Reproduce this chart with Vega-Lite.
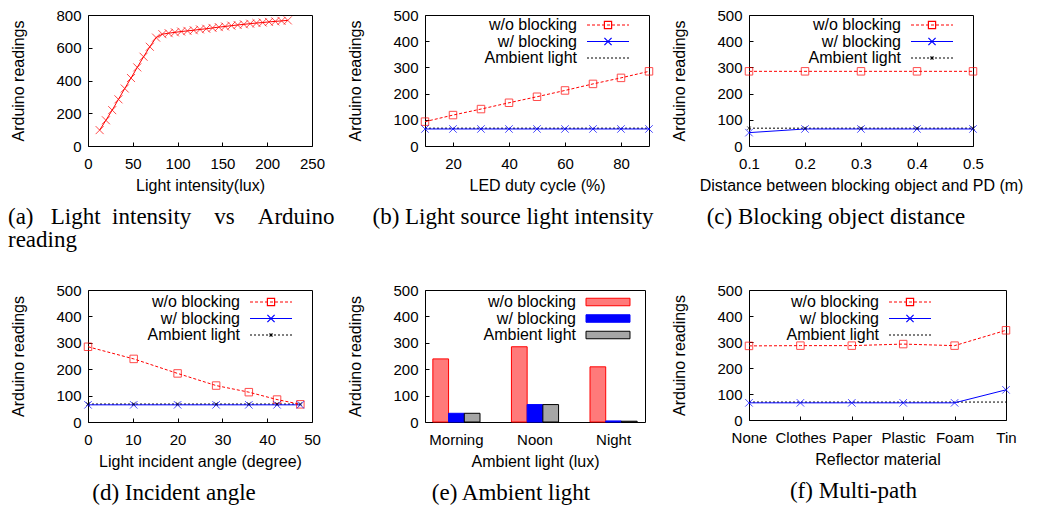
{
  "$schema": "https://vega.github.io/schema/vega-lite/v6.json",
  "padding": {"left": 7, "top": 7, "right": 0, "bottom": 0},
  "bounds": "flush",
  "align": "none",
  "columns": 5,
  "spacing": {"row": 144, "column": 40},
  "resolve": {
    "scale": {"color": "independent", "fill": "independent", "stroke": "independent"},
    "legend": {"color": "independent", "fill": "independent", "stroke": "independent"}
  },
  "datasets": {
    "a": [{"x":13,"y":97},{"x":20,"y":157},{"x":27,"y":219},{"x":34,"y":285},{"x":41,"y":351},{"x":48,"y":415},{"x":55,"y":480},{"x":62,"y":545},{"x":69,"y":606},{"x":76,"y":662},{"x":83,"y":683},{"x":90,"y":689},{"x":97,"y":694},{"x":104,"y":699},{"x":111,"y":703},{"x":118,"y":707},{"x":125,"y":712},{"x":132,"y":716},{"x":139,"y":721},{"x":146,"y":726},{"x":153,"y":730},{"x":160,"y":735},{"x":167,"y":739},{"x":174,"y":743},{"x":181,"y":747},{"x":188,"y":751},{"x":195,"y":754},{"x":202,"y":758},{"x":209,"y":761},{"x":216,"y":764},{"x":223,"y":767}],
    "b": [
      {"x":10,"s":"w/o blocking","y":93},{"x":20,"s":"w/o blocking","y":118},{"x":30,"s":"w/o blocking","y":141},{"x":40,"s":"w/o blocking","y":165},{"x":50,"s":"w/o blocking","y":188},{"x":60,"s":"w/o blocking","y":212},{"x":70,"s":"w/o blocking","y":237},{"x":80,"s":"w/o blocking","y":260},{"x":90,"s":"w/o blocking","y":285},
      {"x":10,"s":"w/ blocking","y":65},{"x":20,"s":"w/ blocking","y":65},{"x":30,"s":"w/ blocking","y":65},{"x":40,"s":"w/ blocking","y":65},{"x":50,"s":"w/ blocking","y":65},{"x":60,"s":"w/ blocking","y":65},{"x":70,"s":"w/ blocking","y":65},{"x":80,"s":"w/ blocking","y":65},{"x":90,"s":"w/ blocking","y":65},
      {"x":10,"s":"Ambient light","y":68},{"x":20,"s":"Ambient light","y":68},{"x":30,"s":"Ambient light","y":68},{"x":40,"s":"Ambient light","y":68},{"x":50,"s":"Ambient light","y":68},{"x":60,"s":"Ambient light","y":68},{"x":70,"s":"Ambient light","y":68},{"x":80,"s":"Ambient light","y":68},{"x":90,"s":"Ambient light","y":68}
    ],
    "c": [
      {"x":0.1,"s":"w/o blocking","y":285},{"x":0.2,"s":"w/o blocking","y":285},{"x":0.3,"s":"w/o blocking","y":285},{"x":0.4,"s":"w/o blocking","y":285},{"x":0.5,"s":"w/o blocking","y":285},
      {"x":0.1,"s":"w/ blocking","y":51},{"x":0.2,"s":"w/ blocking","y":65},{"x":0.3,"s":"w/ blocking","y":65},{"x":0.4,"s":"w/ blocking","y":65},{"x":0.5,"s":"w/ blocking","y":65},
      {"x":0.1,"s":"Ambient light","y":68},{"x":0.2,"s":"Ambient light","y":68},{"x":0.3,"s":"Ambient light","y":68},{"x":0.4,"s":"Ambient light","y":68},{"x":0.5,"s":"Ambient light","y":68}
    ],
    "d": [
      {"x":0,"s":"w/o blocking","y":285},{"x":10.2,"s":"w/o blocking","y":239},{"x":20,"s":"w/o blocking","y":184},{"x":28.6,"s":"w/o blocking","y":138},{"x":35.9,"s":"w/o blocking","y":113},{"x":42.2,"s":"w/o blocking","y":85},{"x":47.4,"s":"w/o blocking","y":67},
      {"x":0,"s":"w/ blocking","y":65},{"x":10.2,"s":"w/ blocking","y":65},{"x":20,"s":"w/ blocking","y":65},{"x":28.6,"s":"w/ blocking","y":65},{"x":35.9,"s":"w/ blocking","y":65},{"x":42.2,"s":"w/ blocking","y":65},{"x":47.4,"s":"w/ blocking","y":65},
      {"x":0,"s":"Ambient light","y":68},{"x":10.2,"s":"Ambient light","y":68},{"x":20,"s":"Ambient light","y":68},{"x":28.6,"s":"Ambient light","y":68},{"x":35.9,"s":"Ambient light","y":68},{"x":42.2,"s":"Ambient light","y":68},{"x":47.4,"s":"Ambient light","y":68}
    ],
    "e": [
      {"t":"Morning","s":"w/o blocking","y":239},{"t":"Morning","s":"w/ blocking","y":33},{"t":"Morning","s":"Ambient light","y":33},
      {"t":"Noon","s":"w/o blocking","y":285},{"t":"Noon","s":"w/ blocking","y":66},{"t":"Noon","s":"Ambient light","y":66},
      {"t":"Night","s":"w/o blocking","y":209},{"t":"Night","s":"w/ blocking","y":4},{"t":"Night","s":"Ambient light","y":3}
    ],
    "f": [
      {"m":"None","s":"w/o blocking","y":285},{"m":"Clothes","s":"w/o blocking","y":286},{"m":"Paper","s":"w/o blocking","y":286},{"m":"Plastic","s":"w/o blocking","y":292},{"m":"Foam","s":"w/o blocking","y":286},{"m":"Tin","s":"w/o blocking","y":345},
      {"m":"None","s":"w/ blocking","y":66},{"m":"Clothes","s":"w/ blocking","y":66},{"m":"Paper","s":"w/ blocking","y":66},{"m":"Plastic","s":"w/ blocking","y":66},{"m":"Foam","s":"w/ blocking","y":66},{"m":"Tin","s":"w/ blocking","y":116},
      {"m":"None","s":"Ambient light","y":69},{"m":"Clothes","s":"Ambient light","y":69},{"m":"Paper","s":"Ambient light","y":69},{"m":"Plastic","s":"Ambient light","y":69},{"m":"Foam","s":"Ambient light","y":69},{"m":"Tin","s":"Ambient light","y":69}
    ]
  },
  "concat": [
    {
      "width": 224, "height": 131,
      "data": {"name": "a"},
      "title": {"text": ["(a)\u00a0\u00a0\u00a0Light\u00a0\u00a0intensity\u00a0\u00a0\u00a0\u00a0vs\u00a0\u00a0\u00a0\u00a0Arduino", "reading"], "anchor": "start", "dx": -80, "lineHeight": 23},
      "encoding": {
        "x": {"field": "x", "type": "quantitative", "scale": {"domain": [0, 250], "nice": false}, "axis": {"values": [0, 50, 100, 150, 200, 250], "title": "Light intensity(lux)"}},
        "y": {"field": "y", "type": "quantitative", "scale": {"domain": [0, 800], "nice": false}, "axis": {"values": [0, 200, 400, 600, 800], "title": "Arduino readings"}}
      },
      "layer": [
        {"mark": {"type": "line", "color": "#ff0000", "strokeWidth": 1}},
        {"mark": {"type": "point", "shape": "M-1,-1L1,1M-1,1L1,-1", "size": 64, "color": "#ff0000", "filled": false, "strokeWidth": 1}}
      ]
    },
    {"width": 33, "height": 1, "view": {"stroke": null}, "data": {"values": []}, "mark": "point"},
    {
      "width": 224, "height": 131,
      "data": {"name": "b"},
      "title": {"text": "(b) Light source light intensity", "dx": -24},
      "encoding": {
        "x": {"field": "x", "type": "quantitative", "scale": {"domain": [10, 90], "nice": false}, "axis": {"values": [20, 40, 60, 80], "title": "LED duty cycle (%)"}},
        "y": {"field": "y", "type": "quantitative", "scale": {"domain": [0, 500], "nice": false}, "axis": {"values": [0, 100, 200, 300, 400, 500], "title": "Arduino readings"}}
      },
      "layer": [
        {"mark": {"type": "line", "opacity": 0},
         "encoding": {
           "color": {"field": "s", "type": "nominal", "scale": {"domain": ["w/o blocking", "w/ blocking", "Ambient light"], "range": ["#ff0000", "#0000ff", "#000000"]},
             "legend": {"title": null, "orient": "none", "legendX": 175, "legendY": 2,
               "encode": {"symbols": {"update": {"fill": {"value": "transparent"}, "opacity": {"value": 1},
                 "shape": {"signal": "datum.value == 'w/o blocking' ? 'M-7,0H-6M-5.33,0H-4.33M-3.67,0H-2.67M-2,0H-1M-0.33,0H0.67M1.33,0H2.33M3,0H4M4.67,0H5.67M6.33,0H7M-1.2,-1.2H1.2V1.2H-1.2Z' : datum.value == 'w/ blocking' ? 'M-7,0H7M-1.2,-1.2L1.2,1.2M-1.2,1.2L1.2,-1.2' : 'M-7,0H-6.33M-5.67,0H-5M-4.33,0H-3.67M-3,0H-2.33M-1.67,0H-1M-0.33,0H0.33M1,0H1.67M2.33,0H3M3.67,0H4.33M5,0H5.67M6.33,0H7'"}}}}}}
         }},
        {"transform": [{"filter": "datum.s == 'Ambient light'"}], "mark": {"type": "line", "color": "#000000", "strokeWidth": 1, "strokeDash": [2, 2]}},
        {"transform": [{"filter": "datum.s == 'w/ blocking'"}], "mark": {"type": "line", "color": "#0000ff", "strokeWidth": 1}},
        {"transform": [{"filter": "datum.s == 'w/o blocking'"}], "mark": {"type": "line", "color": "#ff0000", "strokeWidth": 1, "strokeDash": [3, 2]}},
        {"transform": [{"filter": "datum.s == 'w/o blocking'"}],
         "mark": {"type": "point", "shape": "square", "size": 56, "filled": false, "strokeWidth": 1, "color": "#ff0000"}},
        {"transform": [{"filter": "datum.s == 'w/ blocking'"}],
         "mark": {"type": "point", "shape": "M-1,-1L1,1M-1,1L1,-1", "size": 56, "filled": false, "strokeWidth": 1, "color": "#0000ff"}}
      ]
    },
    {"width": 20, "height": 1, "view": {"stroke": null}, "data": {"values": []}, "mark": "point"},
    {
      "width": 224, "height": 131,
      "data": {"name": "c"},
      "title": {"text": "(c) Blocking object distance", "dx": -25},
      "encoding": {
        "x": {"field": "x", "type": "quantitative", "scale": {"domain": [0.1, 0.5], "nice": false}, "axis": {"values": [0.1, 0.2, 0.3, 0.4, 0.5], "format": ".1f", "title": "Distance between blocking object and PD (m)"}},
        "y": {"field": "y", "type": "quantitative", "scale": {"domain": [0, 500], "nice": false}, "axis": {"values": [0, 100, 200, 300, 400, 500], "title": "Arduino readings"}}
      },
      "layer": [
        {"mark": {"type": "line", "opacity": 0},
         "encoding": {
           "color": {"field": "s", "type": "nominal", "scale": {"domain": ["w/o blocking", "w/ blocking", "Ambient light"], "range": ["#ff0000", "#0000ff", "#000000"]},
             "legend": {"title": null, "orient": "none", "legendX": 175, "legendY": 2,
               "encode": {"symbols": {"update": {"fill": {"value": "transparent"}, "opacity": {"value": 1},
                 "shape": {"signal": "datum.value == 'w/o blocking' ? 'M-7,0H-6M-5.33,0H-4.33M-3.67,0H-2.67M-2,0H-1M-0.33,0H0.67M1.33,0H2.33M3,0H4M4.67,0H5.67M6.33,0H7M-1.2,-1.2H1.2V1.2H-1.2Z' : datum.value == 'w/ blocking' ? 'M-7,0H7M-1.2,-1.2L1.2,1.2M-1.2,1.2L1.2,-1.2' : 'M-7,0H-6.33M-5.67,0H-5M-4.33,0H-3.67M-3,0H-2.33M-1.67,0H-1M-0.33,0H0.33M1,0H1.67M2.33,0H3M3.67,0H4.33M5,0H5.67M6.33,0H7M-0.5,-0.5L0.5,0.5M-0.5,0.5L0.5,-0.5'"}}}}}}
         }},
        {"transform": [{"filter": "datum.s == 'Ambient light'"}], "mark": {"type": "line", "color": "#000000", "strokeWidth": 1, "strokeDash": [2, 2]}},
        {"transform": [{"filter": "datum.s == 'w/ blocking'"}], "mark": {"type": "line", "color": "#0000ff", "strokeWidth": 1}},
        {"transform": [{"filter": "datum.s == 'w/o blocking'"}], "mark": {"type": "line", "color": "#ff0000", "strokeWidth": 1, "strokeDash": [3, 2]}},
        {"transform": [{"filter": "datum.s == 'w/o blocking'"}],
         "mark": {"type": "point", "shape": "square", "size": 56, "filled": false, "strokeWidth": 1, "color": "#ff0000"}},
        {"transform": [{"filter": "datum.s == 'w/ blocking'"}],
         "mark": {"type": "point", "shape": "M-1,-1L1,1M-1,1L1,-1", "size": 56, "filled": false, "strokeWidth": 1, "color": "#0000ff"}},
        {"transform": [{"filter": "datum.s == 'Ambient light'"}],
         "mark": {"type": "point", "shape": "M-1,-1L1,1M-1,1L1,-1", "size": 12, "filled": false, "strokeWidth": 1, "color": "#000000"}}
      ]
    },
    {
      "width": 224, "height": 132,
      "data": {"name": "d"},
      "title": {"text": "(d) Incident angle", "dx": -26},
      "encoding": {
        "x": {"field": "x", "type": "quantitative", "scale": {"domain": [0, 50], "nice": false}, "axis": {"values": [0, 10, 20, 30, 40, 50], "title": "Light incident angle (degree)"}},
        "y": {"field": "y", "type": "quantitative", "scale": {"domain": [0, 500], "nice": false}, "axis": {"values": [0, 100, 200, 300, 400, 500], "title": "Arduino readings"}}
      },
      "layer": [
        {"mark": {"type": "line", "opacity": 0},
         "encoding": {
           "color": {"field": "s", "type": "nominal", "scale": {"domain": ["w/o blocking", "w/ blocking", "Ambient light"], "range": ["#ff0000", "#0000ff", "#000000"]},
             "legend": {"title": null, "orient": "none", "legendX": 175, "legendY": 4,
               "encode": {"symbols": {"update": {"fill": {"value": "transparent"}, "opacity": {"value": 1},
                 "shape": {"signal": "datum.value == 'w/o blocking' ? 'M-7,0H-6M-5.33,0H-4.33M-3.67,0H-2.67M-2,0H-1M-0.33,0H0.67M1.33,0H2.33M3,0H4M4.67,0H5.67M6.33,0H7M-1.2,-1.2H1.2V1.2H-1.2Z' : datum.value == 'w/ blocking' ? 'M-7,0H7M-1.2,-1.2L1.2,1.2M-1.2,1.2L1.2,-1.2' : 'M-7,0H-6.33M-5.67,0H-5M-4.33,0H-3.67M-3,0H-2.33M-1.67,0H-1M-0.33,0H0.33M1,0H1.67M2.33,0H3M3.67,0H4.33M5,0H5.67M6.33,0H7M-0.5,-0.5L0.5,0.5M-0.5,0.5L0.5,-0.5'"}}}}}}
         }},
        {"transform": [{"filter": "datum.s == 'Ambient light'"}], "mark": {"type": "line", "color": "#000000", "strokeWidth": 1, "strokeDash": [2, 2]}},
        {"transform": [{"filter": "datum.s == 'w/ blocking'"}], "mark": {"type": "line", "color": "#0000ff", "strokeWidth": 1}},
        {"transform": [{"filter": "datum.s == 'w/o blocking'"}], "mark": {"type": "line", "color": "#ff0000", "strokeWidth": 1, "strokeDash": [3, 2]}},
        {"transform": [{"filter": "datum.s == 'w/o blocking'"}],
         "mark": {"type": "point", "shape": "square", "size": 56, "filled": false, "strokeWidth": 1, "color": "#ff0000"}},
        {"transform": [{"filter": "datum.s == 'w/ blocking'"}],
         "mark": {"type": "point", "shape": "M-1,-1L1,1M-1,1L1,-1", "size": 56, "filled": false, "strokeWidth": 1, "color": "#0000ff"}},
        {"transform": [{"filter": "datum.s == 'Ambient light'"}],
         "mark": {"type": "point", "shape": "M-1,-1L1,1M-1,1L1,-1", "size": 12, "filled": false, "strokeWidth": 1, "color": "#000000"}}
      ]
    },
    {"width": 20, "height": 1, "view": {"stroke": null}, "data": {"values": []}, "mark": "point"},
    {
      "width": 220, "height": 132,
      "data": {"name": "e"},
      "title": {"text": "(e) Ambient light", "dx": -24},
      "mark": {"type": "bar", "strokeWidth": 1},
      "encoding": {
        "x": {"field": "t", "type": "nominal", "scale": {"domain": ["Morning", "Noon", "Night"], "paddingInner": 0.4, "paddingOuter": 0.1}, "axis": {"labelAngle": 0, "ticks": false, "labelPadding": 10, "title": "Ambient light (lux)"}},
        "xOffset": {"field": "s", "type": "nominal", "scale": {"domain": ["w/o blocking", "w/ blocking", "Ambient light"]}},
        "y": {"field": "y", "type": "quantitative", "scale": {"domain": [0, 500], "nice": false}, "axis": {"values": [0, 100, 200, 300, 400, 500], "title": "Arduino readings"}},
        "fill": {"field": "s", "type": "nominal", "scale": {"domain": ["w/o blocking", "w/ blocking", "Ambient light"], "range": ["#ff7a7a", "#0000ff", "#a6a6a6"]},
          "legend": {"title": null, "orient": "none", "legendX": 175, "legendY": 4, "labelOffset": -40,
            "encode": {"symbols": {"update": {"shape": {"value": "M-7.33,-1.25H7.33V1.25H-7.33Z"}, "strokeWidth": {"value": 1},
              "stroke": {"signal": "datum.value == 'w/o blocking' ? '#ff0000' : datum.value == 'w/ blocking' ? '#0000ff' : '#000000'"}}}}}},
        "stroke": {"field": "s", "type": "nominal", "scale": {"domain": ["w/o blocking", "w/ blocking", "Ambient light"], "range": ["#ff0000", "#0000ff", "#000000"]}, "legend": null}
      }
    },
    {"width": 12, "height": 1, "view": {"stroke": null}, "data": {"values": []}, "mark": "point"},
    {
      "width": 257, "height": 130,
      "data": {"name": "f"},
      "title": {"text": "(f) Multi-path", "dx": -24},
      "encoding": {
        "x": {"field": "m", "type": "nominal", "scale": {"type": "point", "domain": ["None", "Clothes", "Paper", "Plastic", "Foam", "Tin"], "padding": 0}, "axis": {"labelAngle": 0, "title": "Reflector material"}},
        "y": {"field": "y", "type": "quantitative", "scale": {"domain": [0, 500], "nice": false}, "axis": {"values": [0, 100, 200, 300, 400, 500], "title": "Arduino readings"}}
      },
      "layer": [
        {"mark": {"type": "line", "opacity": 0},
         "encoding": {
           "color": {"field": "s", "type": "nominal", "scale": {"domain": ["w/o blocking", "w/ blocking", "Ambient light"], "range": ["#ff0000", "#0000ff", "#000000"]},
             "legend": {"title": null, "orient": "none", "legendX": 153, "legendY": 4,
               "encode": {"symbols": {"update": {"fill": {"value": "transparent"}, "opacity": {"value": 1},
                 "shape": {"signal": "datum.value == 'w/o blocking' ? 'M-7,0H-6M-5.33,0H-4.33M-3.67,0H-2.67M-2,0H-1M-0.33,0H0.67M1.33,0H2.33M3,0H4M4.67,0H5.67M6.33,0H7M-1.2,-1.2H1.2V1.2H-1.2Z' : datum.value == 'w/ blocking' ? 'M-7,0H7M-1.2,-1.2L1.2,1.2M-1.2,1.2L1.2,-1.2' : 'M-7,0H-6.33M-5.67,0H-5M-4.33,0H-3.67M-3,0H-2.33M-1.67,0H-1M-0.33,0H0.33M1,0H1.67M2.33,0H3M3.67,0H4.33M5,0H5.67M6.33,0H7'"}}}}}}
         }},
        {"transform": [{"filter": "datum.s == 'Ambient light'"}], "mark": {"type": "line", "color": "#000000", "strokeWidth": 1, "strokeDash": [2, 2]}},
        {"transform": [{"filter": "datum.s == 'w/ blocking'"}], "mark": {"type": "line", "color": "#0000ff", "strokeWidth": 1}},
        {"transform": [{"filter": "datum.s == 'w/o blocking'"}], "mark": {"type": "line", "color": "#ff0000", "strokeWidth": 1, "strokeDash": [3, 2]}},
        {"transform": [{"filter": "datum.s == 'w/o blocking'"}],
         "mark": {"type": "point", "shape": "square", "size": 56, "filled": false, "strokeWidth": 1, "color": "#ff0000"}},
        {"transform": [{"filter": "datum.s == 'w/ blocking'"}],
         "mark": {"type": "point", "shape": "M-1,-1L1,1M-1,1L1,-1", "size": 56, "filled": false, "strokeWidth": 1, "color": "#0000ff"}}
      ]
    }
  ],
  "config": {
    "view": {"stroke": "#000000", "strokeWidth": 1},
    "font": "Liberation Sans",
    "axis": {"domain": false, "grid": false, "labelFont": "Liberation Sans", "labelFontSize": 15, "labelColor": "#000000",
      "titleFont": "Liberation Sans", "titleFontSize": 16, "titleFontWeight": "normal", "titleColor": "#000000",
      "tickColor": "#000000", "tickSize": -4, "labelFlush": false, "labelOverlap": false, "labelBound": false},
    "axisX": {"labelPadding": 14, "titlePadding": 6},
    "axisY": {"labelPadding": 11, "titlePadding": 29},
    "legend": {"labelFont": "Liberation Sans", "labelFontSize": 16, "labelColor": "#000000", "labelAlign": "right", "labelOffset": -39,
      "symbolSize": 36, "symbolStrokeWidth": 1.2, "rowPadding": 0.5, "padding": 0, "labelLimit": 400},
    "title": {"font": "Liberation Serif", "fontSize": 23, "fontWeight": "normal", "color": "#000000", "orient": "bottom", "frame": "group", "anchor": "middle", "offset": 13, "lineHeight": 21}
  }
}
